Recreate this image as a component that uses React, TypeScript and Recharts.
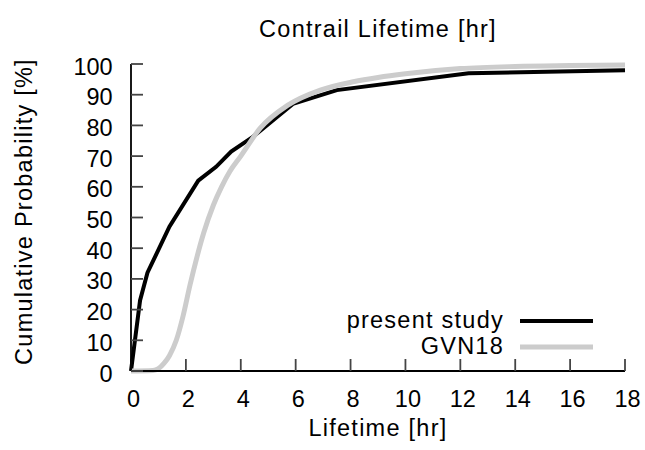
import React from 'react';
import { LineChart, Line, XAxis, YAxis, Label } from 'recharts';

// Cumulative probability of contrail lifetime
const presentHours = [0, 0.33, 0.6, 1.4, 2.45, 3.1, 3.65, 4.4, 5.9, 7.5, 12.3, 18];
const presentProb = [0, 23, 32, 47, 62, 66.5, 71.5, 76, 87, 91.5, 97, 98];

const gvnHours = [0, 0.8, 1.0, 1.2, 1.4, 1.65, 1.9, 2.15, 2.4, 2.65, 3.0, 3.3, 3.6, 4.0, 4.7, 5.7, 6.9, 8.1, 9.0, 10, 12, 14, 16, 18];
const gvnProb = [0, 0.2, 0.8, 2.5, 5, 10, 18, 28, 37, 45, 54, 60, 65, 70, 79, 86.5, 91.5, 94.2, 95.6, 96.8, 98.5, 99.2, 99.5, 99.7];

const xTicks = [0, 2, 4, 6, 8, 10, 12, 14, 16, 18];
const yTicks = [0, 10, 20, 30, 40, 50, 60, 70, 80, 90, 100];

const FONT = '"Liberation Sans", Arial, Helvetica, sans-serif';
const FS = 23.5;
const SPACING = 1.25; // gnuplot's text runs a bit wider than Arial
const TICK_LEN = 12;
const W = 645;
const H = 450;

const toPoints = (hours: number[], prob: number[]) =>
  hours.map((h, i) => ({ hours: h, prob: prob[i] }));

const series = [
  { name: 'present study', data: toPoints(presentHours, presentProb), color: '#000000', width: 4, curve: 'linear' as const },
  { name: 'GVN18', data: toPoints(gvnHours, gvnProb), color: '#cccccc', width: 5, curve: 'monotone' as const },
];

// labels only; the inward tick marks come from Recharts' own tickLine
const BottomLabel = ({ x, y, payload }: any) => (
  <text x={x + 2.5} y={y + 35.7} textAnchor="middle" fontSize={FS} fontFamily={FONT} fill="#000">
    {payload.value}
  </text>
);

const LeftLabel = ({ x, y, payload }: any) => (
  <text x={x - 18.3} y={y + 10.5} textAnchor="end" fontSize={FS} fontFamily={FONT} fill="#000">
    {payload.value}
  </text>
);

const NoLabel = () => <g />;

const frame = { stroke: '#000', strokeWidth: 1.8 };
const tickMark = { stroke: '#444', strokeWidth: 1.8 };

const App: React.FC = () => {
  return (
    <div style={{ position: 'absolute', left: 0, top: 0, width: W, height: H, background: '#fff' }}>
      <LineChart
        width={W}
        height={H}
        margin={{ top: 64, right: 20, bottom: 0, left: 0 }}
        style={{ fontFamily: FONT }}
      >
        <XAxis
          dataKey="hours"
          type="number"
          domain={[0, 18]}
          ticks={xTicks}
          interval={0}
          height={79}
          tickSize={-TICK_LEN}
          tickMargin={TICK_LEN}
          tickLine={tickMark}
          tick={<BottomLabel />}
          axisLine={frame}
        >
          <Label
            value="Lifetime [hr]"
            position="insideBottom"
            offset={14}
            fill="#000"
            fontSize={FS}
            fontFamily={FONT}
            letterSpacing={SPACING}
          />
        </XAxis>
        <XAxis
          xAxisId="top"
          orientation="top"
          type="number"
          domain={[0, 18]}
          ticks={xTicks}
          interval={0}
          height={0}
          tickSize={-TICK_LEN}
          tickLine={tickMark}
          tick={<NoLabel />}
          axisLine={frame}
        />
        <YAxis
          type="number"
          domain={[0, 100]}
          ticks={yTicks}
          interval={0}
          width={131}
          tickSize={-TICK_LEN}
          tickMargin={TICK_LEN}
          tickLine={tickMark}
          tick={<LeftLabel />}
          axisLine={frame}
        >
          <Label
            content={({ viewBox }: any) => {
              const cy = viewBox.y + viewBox.height / 2 - 6;
              return (
                <text
                  x={32}
                  y={cy}
                  transform={`rotate(-90, 32, ${cy})`}
                  textAnchor="middle"
                  fontSize={FS}
                  fontFamily={FONT}
                  letterSpacing={SPACING}
                  fill="#000"
                >
                  Cumulative Probability [%]
                </text>
              );
            }}
          />
        </YAxis>
        <YAxis
          yAxisId="right"
          orientation="right"
          type="number"
          domain={[0, 100]}
          ticks={yTicks}
          interval={0}
          width={0}
          tickSize={-TICK_LEN}
          tickLine={tickMark}
          tick={<NoLabel />}
          axisLine={frame}
        />
        {series.map((s) => (
          <Line
            key={s.name}
            name={s.name}
            data={s.data}
            dataKey="prob"
            type={s.curve}
            stroke={s.color}
            strokeWidth={s.width}
            dot={false}
            activeDot={false}
            isAnimationActive={false}
          />
        ))}
      </LineChart>

      {/* title and key drawn on top, as in the gnuplot original */}
      <svg width={W} height={H} style={{ position: 'absolute', left: 0, top: 0, pointerEvents: 'none' }}>
        <text x={378} y={37} textAnchor="middle" fontSize={FS} fontFamily={FONT} letterSpacing={SPACING} fill="#000">
          Contrail Lifetime [hr]
        </text>
        {series.map((s, i) => {
          const y = 321 + i * 26;
          return (
            <g key={s.name}>
              <text x={504} y={y + 7} textAnchor="end" fontSize={FS} fontFamily={FONT} letterSpacing={SPACING} fill="#000">
                {s.name}
              </text>
              <line x1={520} x2={593} y1={y} y2={y} stroke={s.color} strokeWidth={s.width} />
            </g>
          );
        })}
      </svg>
    </div>
  );
};

export default App;
